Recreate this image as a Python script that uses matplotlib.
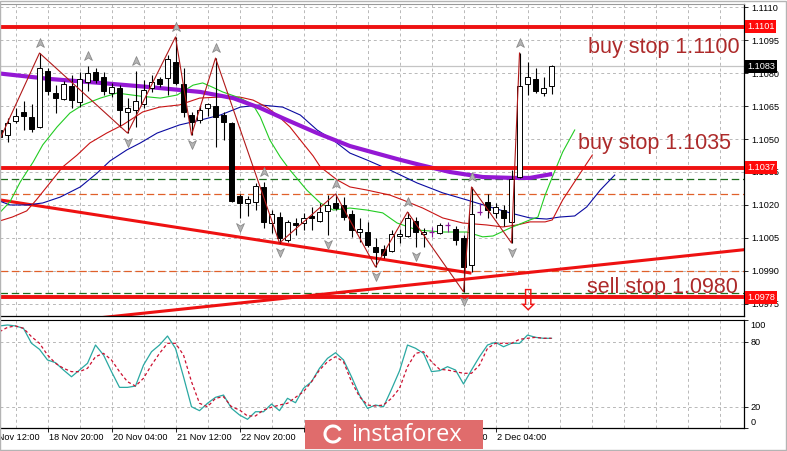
import numpy as np
import matplotlib.pyplot as plt
import matplotlib.transforms as mtransforms
from matplotlib.ticker import FormatStrFormatter
from matplotlib.patches import Rectangle, Arc
from matplotlib.path import Path

plt.rcParams['font.family'] = ['Liberation Sans', 'DejaVu Sans']

# H4 candles, one per bar
opens = [1.10541, 1.10518, 1.10582, 1.10623, 1.10600, 1.10555, 1.10809, 1.10709, 1.10682, 1.10741,
         1.10668, 1.10759, 1.10805, 1.10782, 1.10709, 1.10732, 1.10623, 1.10632, 1.10659, 1.10732,
         1.10773, 1.10777, 1.10850, 1.10750, 1.10609, 1.10586, 1.10641, 1.10650, 1.10609, 1.10573,
         1.10241, 1.10209, 1.10214, 1.10282, 1.10118, 1.10145, 1.10041, 1.10118, 1.10118, 1.10150,
         1.10127, 1.10173, 1.10209, 1.10200, 1.10159, 1.10077, 1.10077, 1.10009, 1.10000, 1.09991,
         1.10059, 1.10059, 1.10127, 1.10068, 1.10077, 1.10073, 1.10109, 1.10091, 1.10050, 1.09927,
         1.10168, 1.10214, 1.10164, 1.10177, 1.10123, 1.10327, 1.10750, 1.10773, 1.10709, 1.10741]
highs = [1.10550, 1.10595, 1.10641, 1.10673, 1.10659, 1.10891, 1.10823, 1.10745, 1.10764, 1.10791,
         1.10805, 1.10832, 1.10823, 1.10805, 1.10755, 1.10745, 1.10686, 1.10809, 1.10768, 1.10791,
         1.10782, 1.10882, 1.10964, 1.10823, 1.10623, 1.10650, 1.10664, 1.10868, 1.10623, 1.10577,
         1.10250, 1.10241, 1.10300, 1.10305, 1.10177, 1.10168, 1.10132, 1.10141, 1.10164, 1.10191,
         1.10209, 1.10245, 1.10250, 1.10236, 1.10177, 1.10141, 1.10123, 1.10050, 1.10018, 1.10086,
         1.10091, 1.10168, 1.10145, 1.10095, 1.10100, 1.10118, 1.10123, 1.10105, 1.10064, 1.10282,
         1.10209, 1.10250, 1.10209, 1.10200, 1.10359, 1.10891, 1.10850, 1.10823, 1.10782, 1.10836]
lows = [1.10495, 1.10486, 1.10573, 1.10541, 1.10532, 1.10550, 1.10700, 1.10618, 1.10677, 1.10641,
        1.10645, 1.10718, 1.10755, 1.10700, 1.10691, 1.10555, 1.10527, 1.10555, 1.10641, 1.10714,
        1.10736, 1.10700, 1.10745, 1.10600, 1.10518, 1.10573, 1.10604, 1.10464, 1.10495, 1.10214,
        1.10141, 1.10150, 1.10177, 1.10095, 1.10073, 1.10027, 1.10032, 1.10064, 1.10086, 1.10086,
        1.10123, 1.10064, 1.10177, 1.10132, 1.10055, 1.10032, 1.10009, 1.09918, 1.09959, 1.09986,
        1.10027, 1.10055, 1.10009, 1.10009, 1.10055, 1.10068, 1.10077, 1.10018, 1.09805, 1.09895,
        1.10155, 1.10141, 1.10141, 1.10105, 1.10027, 1.10323, 1.10700, 1.10709, 1.10695, 1.10705]
closes = [1.10509, 1.10573, 1.10604, 1.10604, 1.10545, 1.10823, 1.10718, 1.10686, 1.10750, 1.10677,
          1.10773, 1.10800, 1.10768, 1.10718, 1.10736, 1.10632, 1.10641, 1.10673, 1.10723, 1.10759,
          1.10750, 1.10864, 1.10755, 1.10623, 1.10577, 1.10632, 1.10659, 1.10600, 1.10577, 1.10218,
          1.10209, 1.10227, 1.10286, 1.10123, 1.10159, 1.10050, 1.10123, 1.10109, 1.10141, 1.10141,
          1.10168, 1.10200, 1.10186, 1.10145, 1.10086, 1.10091, 1.10018, 1.09986, 1.09973, 1.10068,
          1.10068, 1.10141, 1.10077, 1.10077, 1.10077, 1.10109, 1.10109, 1.10041, 1.09918, 1.10159,
          1.10168, 1.10177, 1.10191, 1.10141, 1.10318, 1.10741, 1.10782, 1.10718, 1.10732, 1.10832]

# stochastic main / signal
stoch_main = [94.5, 95.4, 94.5, 92.3, 78.5, 72.9, 63.1, 60.6, 53.8, 47.6,
              53.8, 60.0, 76.9, 67.7, 52.3, 37.8, 37.8, 39.0, 58.4, 70.7,
              76.9, 85.2, 73.8, 47.6, 19.9, 16.3, 23.1, 28.6, 30.7, 18.4,
              12.3, 8.3, 15.3, 15.3, 22.4, 16.3, 27.7, 23.6, 36.9, 43.0,
              55.4, 64.6, 69.8, 63.1, 47.6, 30.7, 18.4, 21.5, 19.9, 36.0,
              53.0, 76.9, 73.9, 69.2, 52.3, 53.2, 56.9, 53.8, 40.9, 53.8,
              66.1, 76.9, 79.4, 75.3, 78.5, 78.5, 86.1, 84.0, 83.1, 83.1]
stoch_signal = [89.2, 93.2, 94.5, 92.3, 84.6, 78.5, 67.7, 60.0, 55.4, 52.3,
                52.3, 55.4, 66.1, 69.2, 63.1, 52.3, 43.0, 39.0, 46.2, 58.4,
                69.2, 78.5, 78.5, 67.7, 43.0, 23.1, 19.9, 27.7, 29.2, 19.9,
                16.9, 11.4, 11.4, 16.9, 19.4, 21.5, 23.1, 28.6, 33.8, 43.0,
                53.8, 61.5, 66.1, 61.5, 43.0, 29.2, 21.5, 20.6, 21.5, 27.7,
                36.9, 56.9, 69.2, 70.7, 61.5, 54.5, 53.8, 52.3, 50.8, 50.8,
                58.4, 73.9, 78.5, 78.5, 78.5, 82.2, 83.1, 84.0, 83.1, 83.1]

# alligator lines (shifted forward), bar position / price
lips_x = [0, 1.3, 2.6, 4.2, 5.4, 7.2, 8.8, 10.4, 12.6, 14.7, 17.6, 20.1, 22.2, 24.2, 25.4,
          26.6, 27.9, 30.1, 31.7, 32.6, 33.8, 35.1, 36.3, 38.4, 40.1, 41.7, 43.8, 45.9, 47.9,
          49.7, 52.2, 55.4, 58.4, 60.4, 61.7, 63.8, 66.3, 67.3, 68.2, 69.2, 70.4, 71.9]
lips_y = [1.10164, 1.10214, 1.10305, 1.10395, 1.10473, 1.10555, 1.10618, 1.10655, 1.10686, 1.10709,
          1.10695, 1.10686, 1.10700, 1.10745, 1.10755, 1.10736, 1.10714, 1.10686, 1.10655, 1.10600,
          1.10495, 1.10418, 1.10359, 1.10268, 1.10209, 1.10177, 1.10186, 1.10177, 1.10164, 1.10118,
          1.10086, 1.10077, 1.10077, 1.10055, 1.10059, 1.10095, 1.10132, 1.10145, 1.10245, 1.10336,
          1.10441, 1.10541]
teeth_x = [0, 1.6, 3.4, 4.6, 6.3, 7.9, 9.7, 11.3, 13.4, 15.4, 17.9, 20.0, 22.5, 25.0, 27.5,
           30.0, 31.7, 33.4, 34.7, 36.3, 37.9, 39.2, 40.1, 42.2, 43.8, 45.9, 48.8, 50.4, 52.9,
           55.4, 57.9, 60.9, 62.9, 64.7, 66.3, 68.2, 69.1, 70.4, 72.6, 74.1]
teeth_y = [1.10127, 1.10145, 1.10173, 1.10223, 1.10300, 1.10373, 1.10427, 1.10482, 1.10527, 1.10564,
           1.10623, 1.10645, 1.10655, 1.10686, 1.10691, 1.10691, 1.10677, 1.10645, 1.10609, 1.10555,
           1.10482, 1.10423, 1.10373, 1.10314, 1.10282, 1.10268, 1.10245, 1.10223, 1.10186, 1.10141,
           1.10118, 1.10109, 1.10100, 1.10109, 1.10123, 1.10123, 1.10132, 1.10223, 1.10345, 1.10427]
jaw_x = [0, 1.3, 3.4, 5.4, 7.6, 10.1, 12.2, 13.8, 15.9, 17.6, 19.7, 22.5, 25.1, 27.6, 30.1,
         32.6, 35.4, 37.6, 39.7, 41.7, 43.8, 45.9, 48.8, 52.2, 55.4, 58.4, 61.3, 63.8, 66.3,
         68.4, 70.0, 71.9, 73.4, 75.1, 76.9]
jaw_y = [1.10218, 1.10200, 1.10200, 1.10209, 1.10236, 1.10282, 1.10345, 1.10400, 1.10450, 1.10482,
         1.10527, 1.10564, 1.10586, 1.10609, 1.10645, 1.10655, 1.10645, 1.10609, 1.10541, 1.10495,
         1.10436, 1.10405, 1.10359, 1.10300, 1.10255, 1.10223, 1.10191, 1.10164, 1.10141, 1.10136,
         1.10145, 1.10150, 1.10191, 1.10268, 1.10336]
# slow moving average (purple)
slow_x = [-0.5, 6.3, 12.6, 18.8, 25.1, 29.2, 32.6, 35.4, 39.7, 43.8, 49.7, 52.6, 56.3, 60.4, 64.2, 66.3, 69.1]
slow_y = [1.10800, 1.10773, 1.10755, 1.10736, 1.10714, 1.10686, 1.10641, 1.10595, 1.10527, 1.10468,
          1.10409, 1.10382, 1.10350, 1.10327, 1.10323, 1.10323, 1.10341]

# zigzag pivots and fractals (bar numbers)
zigzag_bars = [0, 5, 16, 22, 24, 27, 35, 42, 47, 51, 58, 59, 64, 65]
zigzag_kind = ['L', 'H', 'L', 'H', 'L', 'H', 'L', 'H', 'L', 'H', 'L', 'H', 'L', 'H']
up_fractals = [5, 11, 17, 22, 27, 33, 42, 51, 59, 65]
down_fractals = [16, 24, 30, 35, 41, 47, 52, 58, 64]

# horizontal levels
order_levels = [1.1101, 1.1037, 1.0978]
last_price = 1.1083
green_dashed = [1.1032, 1.0980]
orange_dashed = [1.1025, 1.0990]
desc_line_x, desc_line_y = [-1, 58.8], [1.10229, 1.09891]
asc_line_x, asc_line_y = [10, 95], [1.09677, 1.10004]

notes = ['buy stop 1.1100', 'buy stop 1.1035', 'sell stop 1.0980']
notes_x = [73.6, 72.3, 73.4]
notes_y = [1.10889, 1.10455, 1.09799]

price_ticks = [1.0975, 1.0990, 1.1005, 1.1020, 1.1035, 1.1050, 1.1065, 1.1080, 1.1095, 1.1110]
date_ticks = [-2, 6, 14, 22, 30, 38, 46, 54, 62]
date_labels = ['15 Nov 12:00', '18 Nov 20:00', '20 Nov 04:00', '21 Nov 12:00', '22 Nov 20:00',
               '26 Nov 04:00', '27 Nov 12:00', '28 Nov 20:00', '2 Dec 04:00']

W, H = 787, 451
fig = plt.figure(figsize=(W / 100, H / 100), dpi=100)
fig.patch.set_facecolor('white')
ax = fig.add_axes([0, 1 - 316 / H, 744 / W, 312 / H])
ax2 = fig.add_axes([0, 1 - 428.3 / H, 744 / W, 108.3 / H], sharex=ax)

o = np.array(opens); h = np.array(highs); l = np.array(lows); c = np.array(closes)
bars = np.arange(len(o))

grid_kw = dict(color='#b8b8b8', lw=0.7, ls=(0, (3, 3)), zorder=0)
for g in np.arange(2, 94, 4):
    ax.axvline(g, **grid_kw)
    ax2.axvline(g, **grid_kw)
for p in price_ticks:
    ax.axhline(p, **grid_kw)
for v in (20, 80):
    ax2.axhline(v, **grid_kw)

ax.axhline(last_price, color='#c4c4c4', lw=0.9, zorder=0.5)
for p in green_dashed:
    ax.axhline(p, color='#1e6e1e', lw=0.9, ls=(0, (6, 3)), zorder=1)
for p in orange_dashed:
    ax.axhline(p, color='#e0602a', lw=0.9, ls=(0, (6, 3)), zorder=1)

ax.plot(desc_line_x, desc_line_y, color='#ee1111', lw=2.2, zorder=2)
ax.plot(asc_line_x, asc_line_y, color='#ee1111', lw=2.2, zorder=2)

ax.plot(jaw_x, jaw_y, color='#0a0aa0', lw=0.8, zorder=2.5)
ax.plot(teeth_x, teeth_y, color='#c81414', lw=0.8, zorder=2.5)
ax.plot(lips_x, lips_y, color='#22cc22', lw=0.8, zorder=2.5)
ax.plot(slow_x, slow_y, color='#9418d4', lw=3.0, zorder=2.6, solid_capstyle='butt')

for p in order_levels:
    ax.axhline(p, color='#ee1111', lw=2.8, zorder=2.7)

# candles
doji = o == c
ax.vlines(bars[~doji], l[~doji], h[~doji], color='black', lw=0.8, zorder=3)
bull = (c > o)
bear = (c < o)
ax.bar(bars[bull], (c - o)[bull], bottom=o[bull], width=0.62, color='white',
       edgecolor='black', linewidth=0.7, zorder=3.1)
ax.bar(bars[bear], (o - c)[bear], bottom=c[bear], width=0.62, color='black',
       edgecolor='black', linewidth=0.7, zorder=3.1)
ax.vlines(bars[doji], l[doji], h[doji], color='#8a1a9a', lw=0.8, zorder=3)
ax.hlines(o[doji], bars[doji] - 0.35, bars[doji] + 0.35, color='#8a1a9a', lw=0.9, zorder=3)

zz_y = [h[b] if k == 'H' else l[b] for b, k in zip(zigzag_bars, zigzag_kind)]
ax.plot(zigzag_bars, zz_y, color='#b01818', lw=0.8, zorder=4)

up_marker = Path([(0, 1), (0.8, -0.8), (0, -0.3), (-0.8, -0.8), (0, 1)])
dn_marker = Path([(0, -1), (0.8, 0.8), (0, 0.3), (-0.8, 0.8), (0, -1)])
ax.plot(up_fractals, h[up_fractals] + 0.00044, ls='none', marker=up_marker, ms=7,
        color='#b4b4b4', mec='#8a8a8a', mew=0.6, zorder=4.5)
ax.plot(down_fractals, l[down_fractals] - 0.00040, ls='none', marker=dn_marker, ms=7,
        color='#b4b4b4', mec='#8a8a8a', mew=0.6, zorder=4.5)

for txt, x, y in zip(notes, notes_x, notes_y):
    ax.text(x, y, txt, color='#ad2a2a', fontsize=15.5, ha='left', va='baseline', zorder=5)
ax.text(66, 1.09828, '\u21e9', color='#ee1111', fontsize=21, family='DejaVu Sans',
        ha='center', va='top', zorder=5)

ax.set_xlim(0.0625, 93.06)
ax.set_ylim(1.09695, 1.11114)
ax.yaxis.tick_right()
ax.set_yticks(price_ticks)
ax.yaxis.set_major_formatter(FormatStrFormatter('%.4f'))
ax.tick_params(axis='y', labelsize=6.6, length=3, width=0.6, pad=2)
ax.tick_params(axis='x', bottom=False, labelbottom=False)

trans = mtransforms.blended_transform_factory(ax.transAxes, ax.transData)
for p in order_levels:
    ax.text(1.004, p, f'{p:.4f}', transform=trans, ha='left', va='center', fontsize=6.6,
            color='white', bbox=dict(boxstyle='square,pad=0.22', fc='#ff0a0a', ec='none'),
            zorder=10, clip_on=False)
ax.text(1.004, last_price, f'{last_price:.4f}', transform=trans, ha='left', va='center',
        fontsize=6.6, color='white', bbox=dict(boxstyle='square,pad=0.22', fc='black', ec='none'),
        zorder=10, clip_on=False)

# stochastic window
ax2.plot(bars, stoch_main, color='#2aa8a2', lw=0.9, zorder=3)
ax2.plot(bars, stoch_signal, color='#cc1030', lw=0.9, ls=(0, (2.5, 2)), zorder=3)
ax2.set_ylim(0, 100)
ax2.yaxis.tick_right()
ax2.set_yticks([0, 20, 80, 100])
ax2.set_yticklabels(['', '20', '80', ''])
ax2.tick_params(axis='y', labelsize=6.6, length=3, width=0.6, pad=2)
trans2 = mtransforms.blended_transform_factory(ax2.transAxes, ax2.transData)
ax2.text(1.009, 99, '100', transform=trans2, ha='left', va='top', fontsize=6.6)
ax2.text(1.009, 1, '0', transform=trans2, ha='left', va='bottom', fontsize=6.6)

ax2.set_xticks([t for t in date_ticks if t > 0])
ax2.tick_params(axis='x', direction='out', length=3, width=0.6, labelbottom=False)
trans3 = mtransforms.blended_transform_factory(ax2.transData, ax2.transAxes)
for t, lab in zip(date_ticks, date_labels):
    ax2.text(t + 0.15, -0.085, lab, transform=trans3, ha='left', va='center',
             fontsize=6.6, clip_on=False)

for a in (ax, ax2):
    a.set_facecolor('white')
    a.spines['left'].set_visible(False)
    a.spines['right'].set_color('black')
    a.spines['bottom'].set_color('black')
    a.spines['right'].set_linewidth(0.9)
    a.spines['bottom'].set_linewidth(0.9)
ax.spines['top'].set_color('#9a9a9a')
ax2.spines['top'].set_color('black')

# frame + watermark
fig.add_artist(Rectangle((0, 1.5 / H), 785.5 / W, 448.5 / H, transform=fig.transFigure,
                         fill=False, edgecolor='#b4b4b4', lw=1.0))
fig.add_artist(Rectangle((305 / W, 2 / H), 178 / W, 29 / H, transform=fig.transFigure,
                         facecolor='#e06c6c', edgecolor='none', zorder=20))
fig.add_artist(Arc((333 / W, 1 - 434 / H), 16 / W, 16 / H, theta1=40, theta2=320,
                   transform=fig.transFigure, color='white', lw=2.2, zorder=21))
fig.text(351 / W, 1 - 435 / H, 'instaforex', color='white', fontsize=17, family='Open Sans',
         ha='left', va='center', zorder=21)

fig.savefig('out.png', dpi=100)
